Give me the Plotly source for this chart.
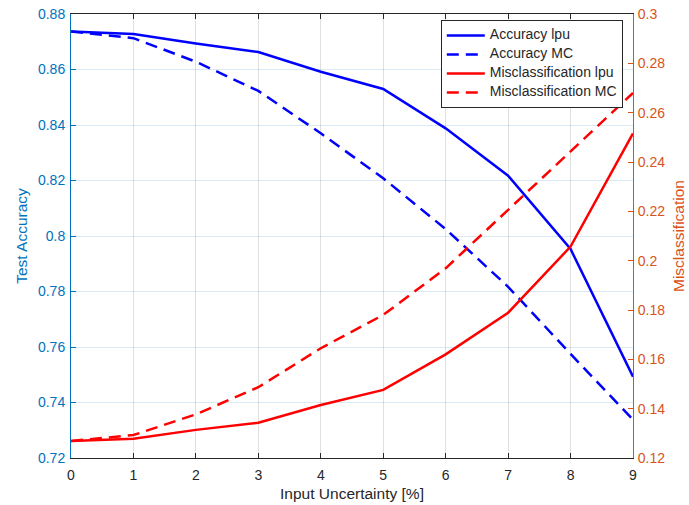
import plotly.graph_objects as go

x_vals = [0, 1, 2, 3, 4, 5, 6, 7, 8, 9]
acc_lpu = [0.8737, 0.8728, 0.8694, 0.8663, 0.8592, 0.8530, 0.8388, 0.8217, 0.7953, 0.7493]
acc_mc = [0.8737, 0.8713, 0.8628, 0.8523, 0.8370, 0.8208, 0.8025, 0.7817, 0.7575, 0.7338]
mis_lpu = [0.1269, 0.1278, 0.1314, 0.1343, 0.1415, 0.1476, 0.1620, 0.1789, 0.2057, 0.2516]
mis_mc = [0.1269, 0.1293, 0.1377, 0.1487, 0.1645, 0.1780, 0.1969, 0.2205, 0.2445, 0.2680]

series_names = ["Accuracy lpu", "Accuracy MC", "Misclassification lpu", "Misclassification MC"]

left_ticks = [0.72, 0.74, 0.76, 0.78, 0.80, 0.82, 0.84, 0.86, 0.88]
left_labels = ["0.72", "0.74", "0.76", "0.78", "0.8", "0.82", "0.84", "0.86", "0.88"]
right_ticks = [0.12, 0.14, 0.16, 0.18, 0.20, 0.22, 0.24, 0.26, 0.28, 0.30]
right_labels = ["0.12", "0.14", "0.16", "0.18", "0.2", "0.22", "0.24", "0.26", "0.28", "0.3"]

BLUE_AX = "#0072BD"
ORANGE_AX = "#D95319"
DARK = "#262626"
FONT = "Liberation Sans, Arial, Helvetica, sans-serif"
DASH = "12px,7px"
TICK_SIZE = 14
LABEL_SIZE = 15.5


def legend_name(s):
    return '<span style="font-size:14px">' + s + '</span>'


fig = go.Figure()
fig.add_trace(go.Scatter(x=x_vals, y=acc_lpu, mode="lines", name=legend_name(series_names[0]),
                         line=dict(color="#0000FF", width=2.5)))
fig.add_trace(go.Scatter(x=x_vals, y=acc_mc, mode="lines", name=legend_name(series_names[1]),
                         line=dict(color="#0000FF", width=2.5, dash=DASH)))
fig.add_trace(go.Scatter(x=x_vals, y=mis_lpu, mode="lines", name=legend_name(series_names[2]),
                         line=dict(color="#FF0000", width=2.5), yaxis="y2"))
fig.add_trace(go.Scatter(x=x_vals, y=mis_mc, mode="lines", name=legend_name(series_names[3]),
                         line=dict(color="#FF0000", width=2.5, dash=DASH), yaxis="y2"))

fig.update_layout(
    width=689, height=505,
    margin=dict(l=71, r=56, t=14, b=47, autoexpand=False),
    paper_bgcolor="white", plot_bgcolor="white",
    font=dict(family=FONT, size=TICK_SIZE, color=DARK),
    showlegend=True,
    legend=dict(x=0.658, y=0.9865, xanchor="left", yanchor="top",
                bgcolor="white", bordercolor=DARK, borderwidth=1,
                font=dict(family=FONT, size=10, color=DARK),
                tracegroupgap=0, itemwidth=38),
    xaxis=dict(range=[0, 9], tickvals=x_vals, ticktext=[str(v) for v in x_vals],
               showline=True, linecolor=DARK, linewidth=1, mirror="ticks",
               ticks="inside", ticklen=5, tickcolor=DARK,
               showgrid=True, gridcolor="rgba(38,38,38,0.15)", gridwidth=1,
               zeroline=False, automargin=False, ticklabelstandoff=4,
               tickfont=dict(size=TICK_SIZE, color=DARK),
               title=dict(text="Input Uncertainty [%]", font=dict(size=LABEL_SIZE, color=DARK), standoff=6)),
    yaxis=dict(range=[0.72, 0.88], tickvals=left_ticks, ticktext=left_labels,
               showline=True, linecolor=BLUE_AX, linewidth=1,
               ticks="inside", ticklen=5, tickcolor=BLUE_AX,
               showgrid=True, gridcolor="rgba(0,114,189,0.15)", gridwidth=1,
               zeroline=False, automargin=False, ticklabelstandoff=2,
               ticklabeloverflow="allow",
               tickfont=dict(size=TICK_SIZE, color=BLUE_AX),
               title=dict(text="Test Accuracy", font=dict(size=LABEL_SIZE, color=BLUE_AX), standoff=6)),
    yaxis2=dict(range=[0.12, 0.30], tickvals=right_ticks, ticktext=right_labels,
                overlaying="y", side="right",
                showline=True, linecolor=ORANGE_AX, linewidth=1,
                ticks="inside", ticklen=5, tickcolor=ORANGE_AX,
                showgrid=False, zeroline=False, automargin=False, ticklabelstandoff=1,
                ticklabeloverflow="allow",
                tickfont=dict(size=TICK_SIZE, color=ORANGE_AX),
                title=dict(text="Misclassification", font=dict(size=LABEL_SIZE, color=ORANGE_AX), standoff=8)),
)

fig.write_html("out.html", config={"displayModeBar": False},
               post_script="document.body.style.margin='0px';")
